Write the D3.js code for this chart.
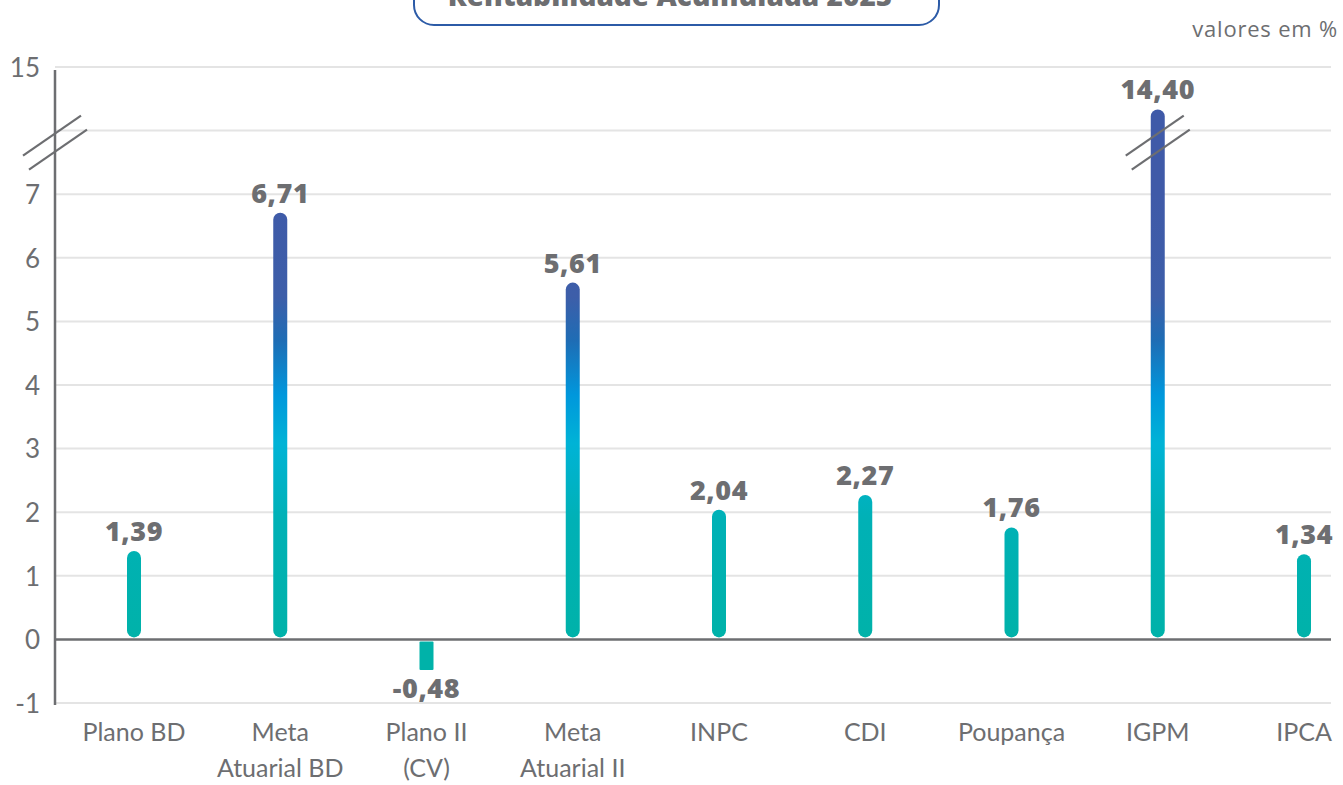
<!DOCTYPE html>
<html>
<head>
<meta charset="utf-8">
<script src="https://cdn.jsdelivr.net/npm/d3@7"></script>
<style>
  html, body { margin: 0; padding: 0; background: #fff; }
  svg { display: block; }
</style>
</head>
<body>
<svg id="chart" width="1343" height="785"></svg>
<script>
// Chart data
var categories = ["Plano BD", "Meta\nAtuarial BD", "Plano II\n(CV)", "Meta\nAtuarial II",
                  "INPC", "CDI", "Poupança", "IGPM", "IPCA"];
var values = [1.39, 6.71, -0.48, 5.61, 2.04, 2.27, 1.76, 14.40, 1.34];
var tickValues = [-1, 0, 1, 2, 3, 4, 5, 6, 7, 15];
var breakValue = 14.1;   // unlabeled gridline where the axis is cut
var title = "Rentabilidade Acumulada 2025";
var unitNote = "valores em %";

var grey = "#6d6e71";
var svg = d3.select("#chart");

// The axis runs evenly from -1 to 7, then jumps over the cut to 15.
var level = d3.scaleLinear().domain([-1, 9]).range([703, 67]);
var y = d3.scaleLinear()
    .domain([-1, 7, breakValue, 15])
    .range([-1, 7, 8, 9].map(level));
var x = d3.scalePoint().domain(categories).range([134, 1304]);

var left = 55, right = 1331;
var ptBR = d3.formatLocale({ decimal: ",", thousands: ".", grouping: [3], currency: ["R$", ""], minus: "-" });
var fmt = ptBR.format(".2f");

// Gradient is fixed to the plot, so short bars stay teal
var defs = svg.append("defs");
var grad = defs.append("linearGradient")
    .attr("id", "barGrad")
    .attr("gradientUnits", "userSpaceOnUse")
    .attr("x1", 0).attr("x2", 0)
    .attr("y1", y(0)).attr("y2", y(7));
[[0, "#00b2a9"], [0.27, "#00b1b6"], [0.44, "#00b3d6"], [0.55, "#0097dc"],
 [0.67, "#1e6db5"], [0.77, "#3d5ea9"], [1, "#3f5aa8"]].forEach(function(s) {
    grad.append("stop").attr("offset", s[0]).attr("stop-color", s[1]);
});

// Title box, pushed up past the top edge
svg.append("rect")
    .attr("x", 414).attr("y", -40)
    .attr("width", 525).attr("height", 65)
    .attr("rx", 20)
    .attr("fill", "#fff")
    .attr("stroke", "#2c5ba7")
    .attr("stroke-width", 2);
svg.append("text")
    .attr("x", 670).attr("y", 6)
    .attr("text-anchor", "middle")
    .attr("font-family", "'Open Sans', sans-serif")
    .attr("font-weight", 800)
    .attr("font-size", 28)
    .attr("fill", grey)
    .text(title);

svg.append("text")
    .attr("x", 1338).attr("y", 37)
    .attr("text-anchor", "end")
    .attr("font-family", "'Open Sans', sans-serif")
    .attr("font-size", 22)
    .attr("letter-spacing", 0.8)
    .attr("fill", grey)
    .text(unitNote);

// Gridlines
var grid = tickValues.filter(function(d) { return d !== 0; }).concat([breakValue]);
svg.append("g").selectAll("line")
    .data(grid)
    .join("line")
    .attr("x1", left).attr("x2", right)
    .attr("y1", function(d) { return y(d); })
    .attr("y2", function(d) { return y(d); })
    .attr("stroke", "#e4e4e4")
    .attr("stroke-width", 2);

// Y axis
var yAxis = svg.append("g")
    .attr("transform", "translate(" + left + ",0)")
    .call(d3.axisLeft(y).tickValues(tickValues).tickSize(0).tickPadding(15)
        .tickFormat(ptBR.format("d")));
yAxis.select(".domain").remove();
yAxis.selectAll("text")
    .attr("font-family", "Lato, sans-serif")
    .attr("font-size", 26)
    .attr("fill", grey)
    .attr("dy", "0.36em");
svg.append("line")
    .attr("x1", left).attr("x2", left)
    .attr("y1", y(15) + 3).attr("y2", y(-1) + 2)
    .attr("stroke", grey).attr("stroke-width", 2.5);

// Bars
svg.append("g").selectAll("rect")
    .data(values)
    .join("rect")
    .attr("x", function(d, i) { return x(categories[i]) - 7; })
    .attr("width", 14)
    .attr("y", function(d) { return d >= 0 ? y(d) : y(0) + 2; })
    .attr("height", function(d) {
        return d >= 0 ? y(0) - 2 - y(d) : y(d) - y(0) - 2;
    })
    .attr("rx", function(d) { return d >= 0 ? 7 : 1; })
    .attr("fill", "url(#barGrad)");

// Zero line
svg.append("line")
    .attr("x1", left).attr("x2", right)
    .attr("y1", y(0)).attr("y2", y(0))
    .attr("stroke", grey).attr("stroke-width", 2.5);

// Cut marks on the axis and on the tall bar
function cutMark(cx, cy) {
    var g = svg.append("g").attr("transform", "translate(" + cx + "," + cy + ")");
    [[-3, -7], [3, 7]].forEach(function(o) {
        g.append("line")
            .attr("x1", o[0] - 29).attr("y1", o[1] + 20)
            .attr("x2", o[0] + 29).attr("y2", o[1] - 20)
            .attr("stroke", grey).attr("stroke-width", 2.2);
    });
}
cutMark(left, y(breakValue) + 12);
values.forEach(function(d, i) {
    if (d > 7) cutMark(x(categories[i]), y(breakValue) + 12);
});

// Value labels
svg.append("g").selectAll("text")
    .data(values)
    .join("text")
    .attr("x", function(d, i) { return x(categories[i]); })
    .attr("y", function(d) { return d >= 0 ? y(d) - 10 : y(d) + 28; })
    .attr("text-anchor", "middle")
    .attr("font-family", "'Open Sans', sans-serif")
    .attr("font-weight", 800)
    .attr("font-size", 27)
    .attr("letter-spacing", 0.6)
    .attr("fill", grey)
    .text(function(d) { return fmt(d); });

// Category labels
svg.append("g").selectAll("text")
    .data(categories)
    .join("text")
    .attr("x", function(d) { return x(d); })
    .attr("y", 741)
    .attr("text-anchor", "middle")
    .attr("font-family", "Lato, sans-serif")
    .attr("font-size", 25)
    .attr("fill", grey)
    .each(function(d) {
        var t = d3.select(this);
        d.split("\n").forEach(function(line, k) {
            t.append("tspan")
                .attr("x", x(d))
                .attr("dy", k === 0 ? 0 : 36)
                .text(line);
        });
    });
</script>
</body>
</html>
